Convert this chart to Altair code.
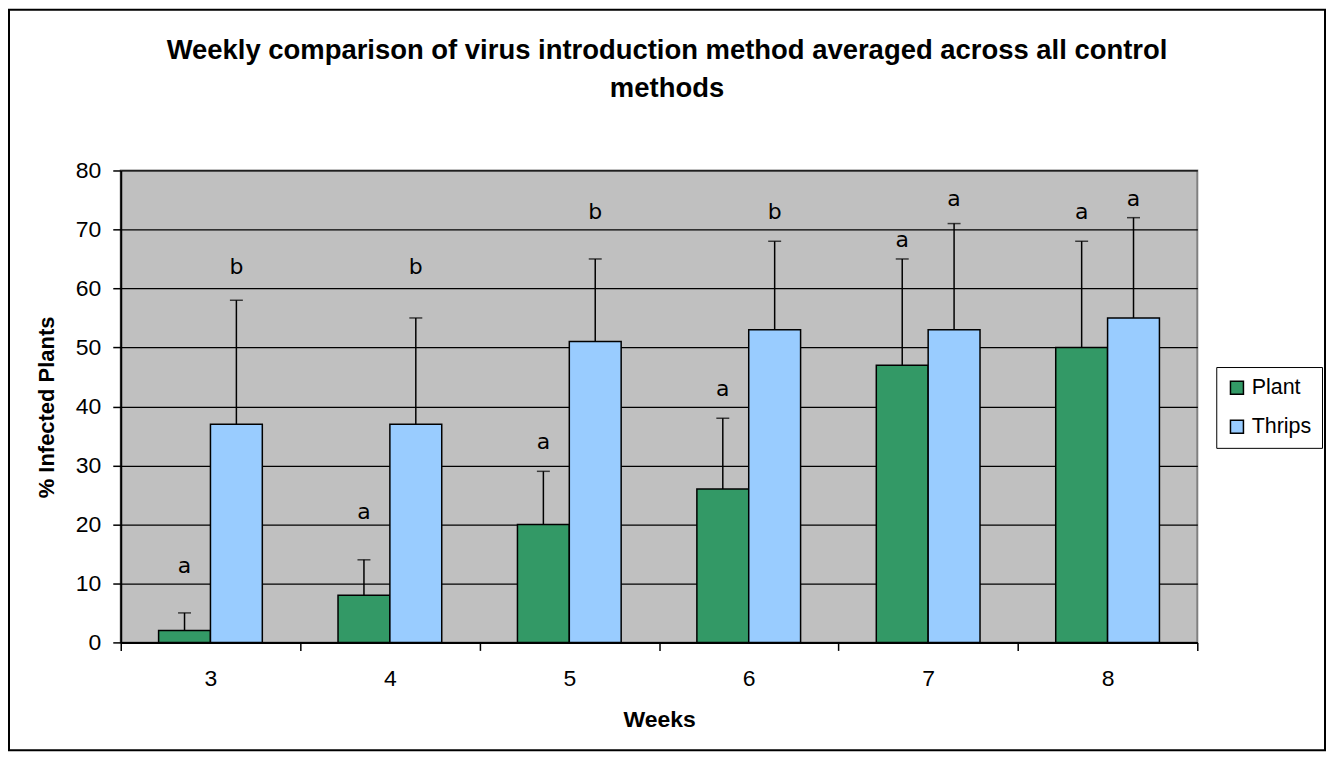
import altair as alt
import pandas as pd

weeks = ["3", "4", "5", "6", "7", "8"]
series = ["Plant", "Thrips"]
colors = ["#339966", "#99CCFF"]

plant_mean = [2, 8, 20, 26, 47, 50]
plant_upper = [5, 14, 29, 38, 65, 68]
thrips_mean = [37, 37, 51, 53, 53, 55]
thrips_upper = [58, 55, 65, 68, 71, 72]

plant_letter = ["a", "a", "a", "a", "a", "a"]
thrips_letter = ["b", "b", "b", "b", "a", "a"]
plant_letter_y = [11.7, 21.0, 32.8, 41.8, 67.0, 71.7]
thrips_letter_y = [62.4, 62.4, 71.7, 71.7, 73.9, 73.9]

y_ticks = [0, 10, 20, 30, 40, 50, 60, 70, 80]

rows = []
for i, w in enumerate(weeks):
    rows.append(dict(week=w, series="Plant", mean=plant_mean[i], upper=plant_upper[i],
                     letter=plant_letter[i], ly=plant_letter_y[i]))
    rows.append(dict(week=w, series="Thrips", mean=thrips_mean[i], upper=thrips_upper[i],
                     letter=thrips_letter[i], ly=thrips_letter_y[i]))
df = pd.DataFrame(rows)

FONT = "Liberation Sans"

x_enc = alt.X(
    "week:N", sort=weeks, title="Weeks",
    scale=alt.Scale(paddingInner=0, paddingOuter=0),
    axis=alt.Axis(labelAngle=0, tickBand="extent", tickSize=8, tickWidth=1.5,
                  tickColor="black", domainColor="black", domainWidth=2,
                  labelFont=FONT, labelFontSize=23, labelColor="black",
                  labelPadding=17, titleFont=FONT, titleFontSize=23,
                  titleFontWeight="bold", titleColor="black", titlePadding=18,
                  grid=False),
)
xoff_enc = alt.XOffset("series:N", sort=series,
                       scale=alt.Scale(paddingInner=0, paddingOuter=0.73))
y_scale = alt.Scale(domain=[0, 80], nice=False)

base = alt.Chart(df)

bars = base.mark_bar(stroke="black", strokeWidth=1.5).encode(
    x=x_enc,
    xOffset=xoff_enc,
    y=alt.Y("mean:Q", scale=y_scale,
            axis=alt.Axis(values=y_ticks, title="% Infected Plants",
                          tickSize=8, tickWidth=1.5, tickColor="black",
                          domainColor="black", domainWidth=2,
                          gridColor="black", gridWidth=1.3,
                          labelFont=FONT, labelFontSize=23, labelColor="black",
                          labelPadding=12, titleFont=FONT, titleFontSize=22,
                          titleFontWeight="bold", titleColor="black",
                          titleX=-62, titleY=237)),
    color=alt.Color("series:N", sort=series,
                    scale=alt.Scale(domain=series, range=colors),
                    legend=alt.Legend(title=None, orient="none", legendX=1098, legendY=197,
                                      symbolType="square", symbolSize=169,
                                      symbolStrokeColor="black", symbolStrokeWidth=1.5,
                                      labelFont=FONT, labelFontSize=21.5, labelColor="black",
                                      strokeColor="black", fillColor="white",
                                      padding=10, rowPadding=16, labelOffset=4)),
)

rules = base.mark_rule(color="black", strokeWidth=1.5).encode(
    x=x_enc, xOffset=xoff_enc,
    y=alt.Y("mean:Q", scale=y_scale), y2="upper:Q",
)

caps = base.mark_tick(color="black", size=13, thickness=1.5, orient="horizontal").encode(
    x=x_enc, xOffset=xoff_enc,
    y=alt.Y("upper:Q", scale=y_scale),
)

letters = base.mark_text(font="DejaVu Sans", fontSize=22, baseline="alphabetic",
                         color="black").encode(
    x=x_enc, xOffset=xoff_enc,
    y=alt.Y("ly:Q", scale=y_scale),
    text="letter:N",
)

frame = alt.Chart(pd.DataFrame({"f": [0]})).mark_rect(
    filled=False, stroke="black", strokeWidth=2
).encode(
    x=alt.value(-112), x2=alt.value(1207), y=alt.value(-161), y2=alt.value(581)
)

chart = alt.layer(bars, rules, caps, letters, frame).properties(
    width=1079, height=473,
    title=alt.Title(
        text=["Weekly comparison of virus introduction method averaged across all control",
              "methods"],
        font=FONT, fontSize=27.5, fontWeight="bold", color="black",
        anchor="middle", dx=8, offset=0, dy=94, lineHeight=38,
    ),
    autosize=alt.AutoSizeParams(type="none"),
    padding={"left": 113, "top": 162, "right": 130, "bottom": 109},
    background="white",
).configure_view(
    fill="#C0C0C0", stroke="#808080", strokeWidth=2
)

chart.save("out.html", embed_options={"renderer": "svg", "actions": False})
